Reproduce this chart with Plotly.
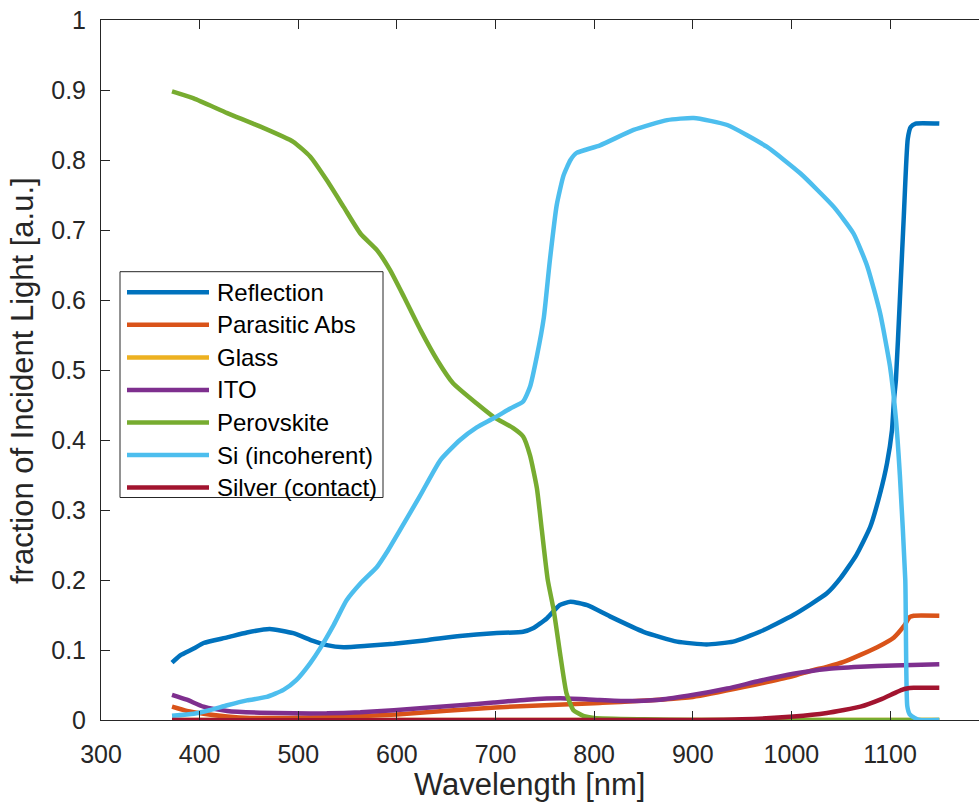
import plotly.graph_objects as go

# Optical loss breakdown of a perovskite/Si tandem stack vs wavelength
reflection_wl = [372, 380, 394, 404, 428, 448, 471, 495, 515, 529, 546, 570, 597, 630, 664, 698,
                 728, 738, 752, 765, 776, 793, 816, 850, 884, 914, 941, 968, 1002, 1036, 1050,
                 1066, 1080, 1090, 1097, 1102, 1104, 1106, 1110, 1114, 1118, 1121, 1126, 1150]
reflection = [0.082, 0.092, 0.102, 0.110, 0.118, 0.125, 0.130, 0.124, 0.113, 0.107, 0.104, 0.106,
              0.109, 0.114, 0.120, 0.124, 0.126, 0.131, 0.145, 0.164, 0.169, 0.164, 0.148, 0.126,
              0.112, 0.108, 0.112, 0.126, 0.150, 0.181, 0.203, 0.236, 0.276, 0.324, 0.367, 0.414,
              0.457, 0.486, 0.600, 0.720, 0.830, 0.847, 0.852, 0.852]

parasitic_wl = [372, 387, 404, 428, 451, 490, 530, 600, 700, 800, 900, 1000, 1019, 1036, 1053,
                1070, 1087, 1104, 1114, 1120, 1124, 1150]
parasitic = [0.019, 0.013, 0.009, 0.005, 0.003, 0.003, 0.004, 0.008, 0.018, 0.024, 0.033, 0.062,
             0.070, 0.076, 0.083, 0.093, 0.104, 0.118, 0.134, 0.147, 0.149, 0.149]

glass_wl = [372, 1150]
glass = [0.0, 0.0]

ito_wl = [372, 387, 404, 428, 461, 495, 529, 563, 597, 630, 664, 698, 732, 766, 799, 833, 867,
          901, 935, 968, 1002, 1036, 1070, 1104, 1150]
ito = [0.036, 0.029, 0.019, 0.013, 0.0105, 0.0095, 0.0095, 0.011, 0.014, 0.0176, 0.021, 0.025,
       0.029, 0.031, 0.029, 0.027, 0.029, 0.036, 0.045, 0.056, 0.066, 0.073, 0.076, 0.078, 0.0795]

perovskite_wl = [372, 394, 428, 461, 495, 512, 529, 546, 563, 580, 593, 607, 624, 641, 657, 681,
                 698, 718, 728, 735, 742, 747, 753, 759, 766, 772, 779, 789, 800, 850, 900, 1000,
                 1100, 1150]
perovskite = [0.898, 0.888, 0.867, 0.848, 0.826, 0.805, 0.771, 0.733, 0.695, 0.671, 0.643, 0.605,
              0.557, 0.514, 0.481, 0.452, 0.433, 0.417, 0.405, 0.378, 0.331, 0.271, 0.200, 0.157,
              0.090, 0.038, 0.014, 0.006, 0.003, 0.001, 0.0, 0.0, 0.0, 0.0]

si_wl = [372, 394, 410, 428, 448, 468, 485, 498, 512, 522, 536, 549, 563, 580, 590, 603, 623, 644,
         664, 681, 698, 715, 728, 735, 742, 749, 755, 762, 769, 776, 782, 806, 840, 874, 901, 935,
         975, 1009, 1043, 1063, 1077, 1090, 1100, 1106, 1110, 1115.5, 1117.5, 1120, 1125, 1130, 1150]
si = [0.006, 0.009, 0.014, 0.021, 0.028, 0.033, 0.043, 0.057, 0.081, 0.102, 0.136, 0.171, 0.195,
      0.219, 0.240, 0.271, 0.319, 0.371, 0.400, 0.418, 0.431, 0.445, 0.455, 0.476, 0.520, 0.575,
      0.655, 0.735, 0.778, 0.800, 0.810, 0.821, 0.843, 0.857, 0.860, 0.850, 0.819, 0.781, 0.733,
      0.695, 0.648, 0.581, 0.505, 0.430, 0.350, 0.200, 0.020, 0.008, 0.003, 0.0, 0.0]

silver_wl = [372, 900, 950, 1002, 1036, 1070, 1090, 1104, 1112, 1117, 1124, 1150]
silver = [0.0, 0.0, 0.001, 0.005, 0.010, 0.019, 0.029, 0.038, 0.043, 0.045, 0.046, 0.046]

names = ["Reflection", "Parasitic Abs", "Glass", "ITO", "Perovskite",
         "Si (incoherent)", "Silver (contact)"]
colors = ["#0072BD", "#D95319", "#EDB120", "#7E2F8E", "#77AC30", "#4DBEEE", "#A2142F"]
series = [(reflection_wl, reflection), (parasitic_wl, parasitic), (glass_wl, glass),
          (ito_wl, ito), (perovskite_wl, perovskite), (si_wl, si), (silver_wl, silver)]

x_ticks = [300, 400, 500, 600, 700, 800, 900, 1000, 1100]
y_ticks = [0, 0.1, 0.2, 0.3, 0.4, 0.5, 0.6, 0.7, 0.8, 0.9, 1]
y_tick_text = ["0", "0.1", "0.2", "0.3", "0.4", "0.5", "0.6", "0.7", "0.8", "0.9", "1"]

FONT = "Liberation Sans, Arial, sans-serif"
AX = "#262626"
W, H = 979, 805
ML, MR, MT, MB = 101, 0, 20, 85
PW, PH = W - ML - MR, H - MT - MB

fig = go.Figure()
for (wl, val), name, col in zip(series, names, colors):
    fig.add_trace(go.Scatter(x=wl, y=val, name=name, mode="lines",
                             line=dict(color=col, width=4.5, shape="spline", smoothing=0.5),
                             showlegend=False))


def px_x(p):
    return (p - ML) / PW


def px_y(p):
    return (H - MB - p) / PH


# boxed legend with long line samples
shapes = [dict(type="rect", xref="paper", yref="paper",
               x0=px_x(120), x1=px_x(383), y0=px_y(497.5), y1=px_y(271.7),
               line=dict(color=AX, width=1), fillcolor="white", layer="above")]
annotations = []
row0, step = 292.3, 32.55
for i, (name, col) in enumerate(zip(names, colors)):
    yy = px_y(row0 + i * step)
    shapes.append(dict(type="line", xref="paper", yref="paper",
                       x0=px_x(127), x1=px_x(209), y0=yy, y1=yy,
                       line=dict(color=col, width=4.5), layer="above"))
    annotations.append(dict(xref="paper", yref="paper", x=px_x(215), y=yy,
                            text=name, showarrow=False, xanchor="left", yanchor="middle",
                            font=dict(family=FONT, size=24, color="#000000")))

# axis titles
annotations.append(dict(xref="paper", yref="paper", x=px_x(529), y=px_y(784),
                        text="Wavelength [nm]", showarrow=False,
                        xanchor="center", yanchor="middle",
                        font=dict(family=FONT, size=31, color=AX)))
annotations.append(dict(xref="paper", yref="paper", x=px_x(22), y=px_y(381),
                        text="fraction of Incident Light [a.u.]", showarrow=False,
                        textangle=-90, xanchor="center", yanchor="middle",
                        font=dict(family=FONT, size=31, color=AX)))

fig.update_layout(
    width=W, height=H, autosize=False,
    margin=dict(l=ML, r=MR, t=MT, b=MB, pad=0),
    plot_bgcolor="white", paper_bgcolor="white",
    font=dict(family=FONT, color=AX),
    shapes=shapes, annotations=annotations,
    xaxis=dict(range=[300, 300 + PW / 0.98625], tickvals=x_ticks,
               ticks="inside", ticklen=9, tickwidth=1, tickcolor=AX,
               showline=True, linecolor=AX, linewidth=1, mirror="ticks",
               showgrid=False, zeroline=False,
               tickfont=dict(family=FONT, size=25, color=AX), ticklabelstandoff=12),
    yaxis=dict(range=[0, 1], tickvals=y_ticks, ticktext=y_tick_text,
               ticks="inside", ticklen=9, tickwidth=1, tickcolor=AX,
               showline=True, linecolor=AX, linewidth=1, mirror=False,
               showgrid=False, zeroline=False,
               tickfont=dict(family=FONT, size=25, color=AX), ticklabelstandoff=9),
    yaxis2=dict(range=[0, 1], tickvals=y_ticks, overlaying="y", side="right",
                ticks="inside", ticklen=9, tickwidth=1, tickcolor=AX,
                showline=False, showgrid=False, zeroline=False, showticklabels=False),
)

fig.write_html("out.html")
